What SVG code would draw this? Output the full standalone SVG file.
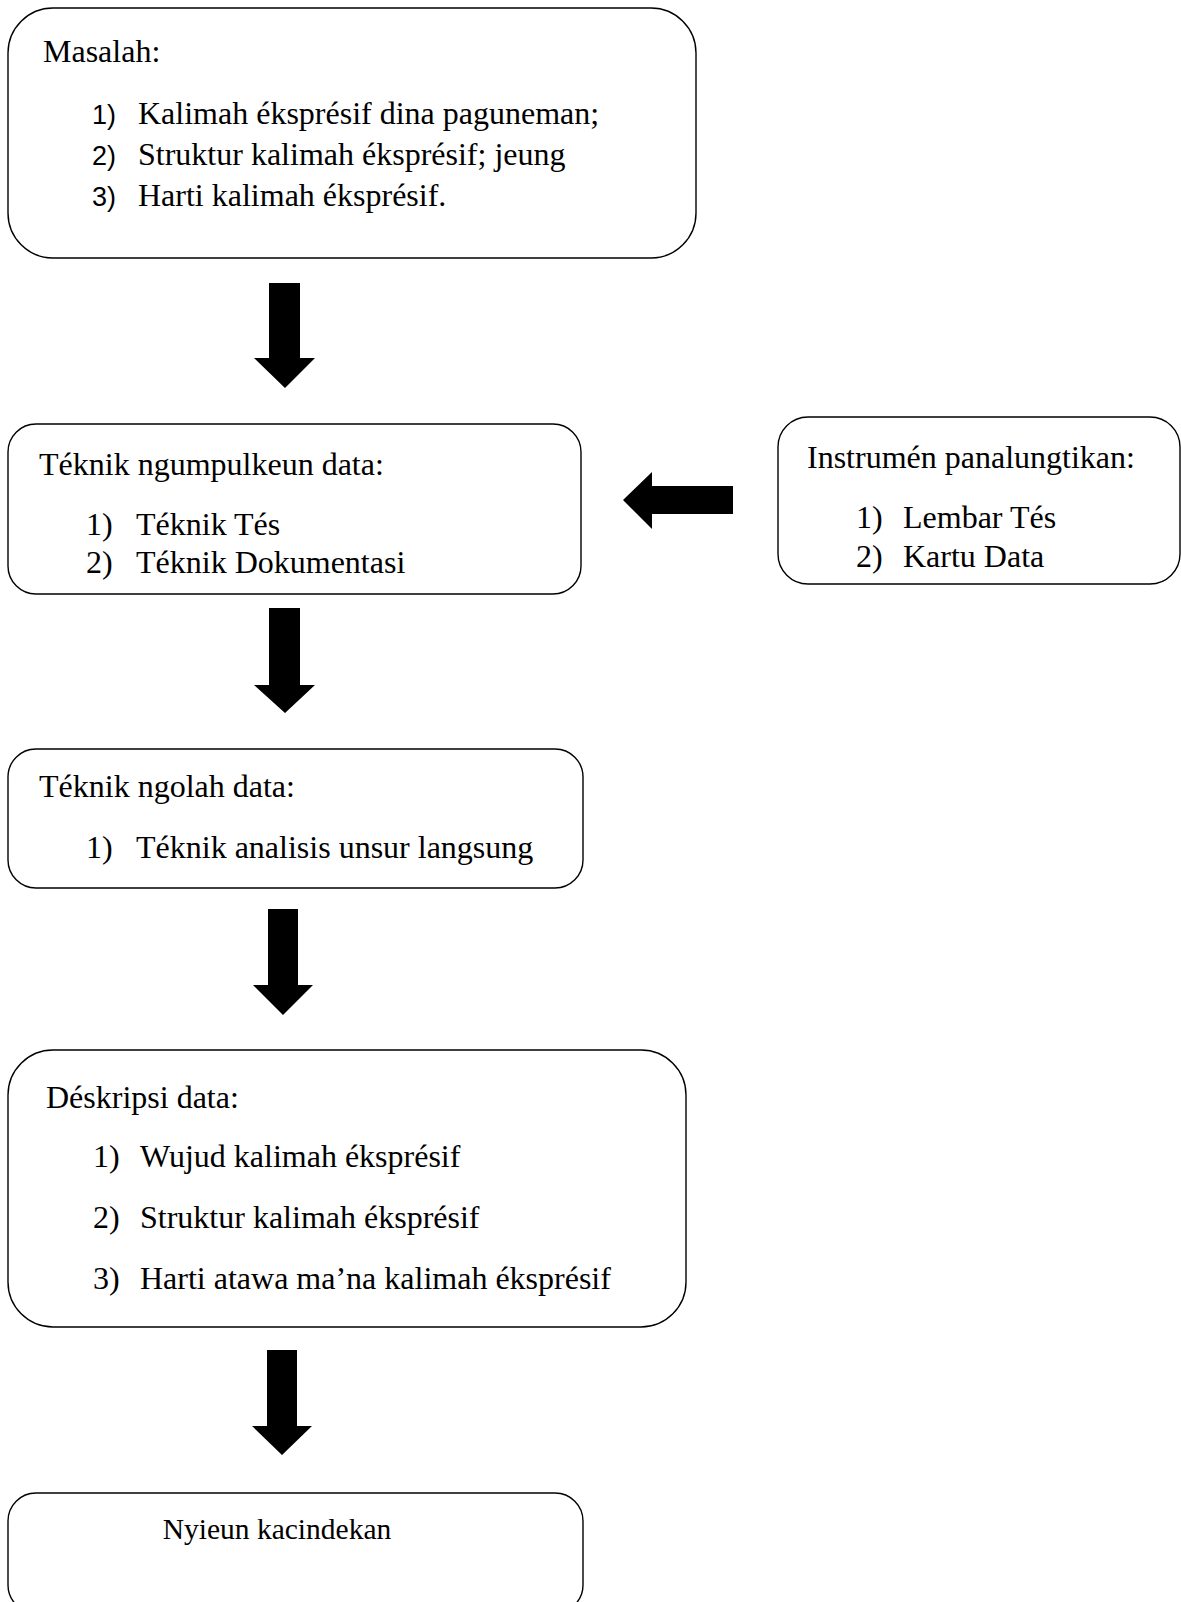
<svg xmlns="http://www.w3.org/2000/svg" width="1181" height="1602" viewBox="0 0 1181 1602">
<style>
.box{fill:#fff;stroke:#000;stroke-width:1.4}
.t{font-family:"Liberation Serif","Times New Roman",serif;font-size:32px;fill:#000}
.n{font-family:"Liberation Sans",Arial,sans-serif;font-size:27px;fill:#000}
.arr{fill:#000}
</style>
<rect width="1181" height="1602" fill="#fff"/>
<g id="connectors">
<polygon class="arr" points="269,283 300,283 300,358 315,358 285,388 254,358 269,358"/>
<polygon class="arr" points="269,608 300,608 300,685 315,685 285,713 254,685 269,685"/>
<polygon class="arr" points="268,909 298,909 298,985 313,985 283,1015 253,985 268,985"/>
<polygon class="arr" points="267,1350 297,1350 297,1426 312,1426 282,1455 252,1426 267,1426"/>
<polygon class="arr" points="733,486 733,514 652,514 652,529 623,500 652,472 652,486"/>
</g>
<g id="masalah">
<rect class="box" x="8" y="8" width="688" height="250" rx="45" ry="45"/>
<text class="t" x="43" y="62">Masalah:</text>
<text class="n" x="92" y="124">1)</text><text class="t" x="138" y="124">Kalimah éksprésif dina paguneman;</text>
<text class="n" x="92" y="165">2)</text><text class="t" x="138" y="165">Struktur kalimah éksprésif; jeung</text>
<text class="n" x="92" y="206">3)</text><text class="t" x="138" y="206">Harti kalimah éksprésif.</text>
</g>
<g id="teknik-ngumpulkeun">
<rect class="box" x="8" y="424" width="573" height="170" rx="28" ry="28"/>
<text class="t" x="39" y="475">Téknik ngumpulkeun data:</text>
<text class="t" x="86" y="535">1)</text><text class="t" x="136" y="535">Téknik Tés</text>
<text class="t" x="86" y="573">2)</text><text class="t" x="136" y="573">Téknik Dokumentasi</text>
</g>
<g id="instrumen">
<rect class="box" x="778" y="417" width="402" height="167" rx="30" ry="30"/>
<text class="t" x="807" y="468">Instrumén panalungtikan:</text>
<text class="t" x="856" y="528">1)</text><text class="t" x="903" y="528">Lembar Tés</text>
<text class="t" x="856" y="567">2)</text><text class="t" x="903" y="567">Kartu Data</text>
</g>
<g id="teknik-ngolah">
<rect class="box" x="8" y="749" width="575" height="139" rx="28" ry="28"/>
<text class="t" x="39" y="797">Téknik ngolah data:</text>
<text class="t" x="86" y="858">1)</text><text class="t" x="136" y="858">Téknik analisis unsur langsung</text>
</g>
<g id="deskripsi">
<rect class="box" x="8" y="1050" width="678" height="277" rx="45" ry="45"/>
<text class="t" x="46" y="1108">Déskripsi data:</text>
<text class="t" x="93" y="1167">1)</text><text class="t" x="140" y="1167">Wujud kalimah éksprésif</text>
<text class="t" x="93" y="1228">2)</text><text class="t" x="140" y="1228">Struktur kalimah éksprésif</text>
<text class="t" x="93" y="1289">3)</text><text class="t" x="140" y="1289">Harti atawa ma’na kalimah éksprésif</text>
</g>
<g id="kacindekan">
<rect class="box" x="8" y="1493" width="575" height="120" rx="28" ry="28"/>
<text class="t" x="277" y="1539" text-anchor="middle" style="font-size:29.5px">Nyieun kacindekan</text>
</g>
</svg>
